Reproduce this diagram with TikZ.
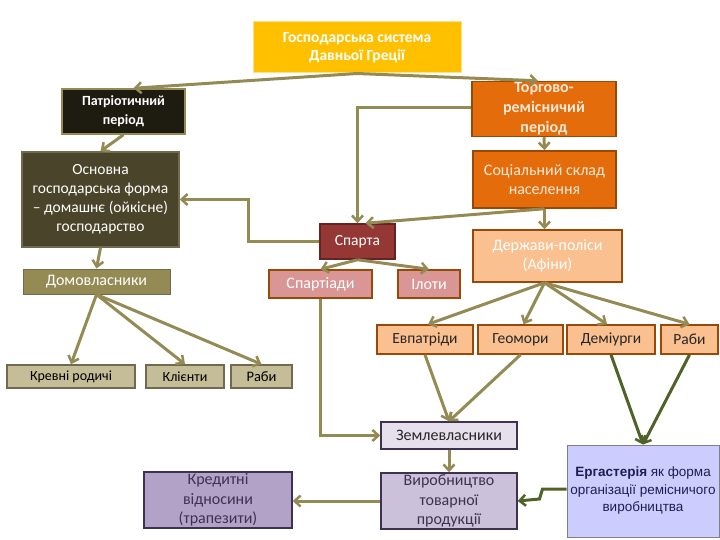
\documentclass[tikz,border=0pt]{standalone}
\usepackage{fontspec}
\setmainfont{Carlito}
\newfontfamily\arialf{Liberation Sans}
\usetikzlibrary{arrows.meta}
\definecolor{conn}{HTML}{948A54}
\definecolor{connd}{HTML}{4F6228}
\definecolor{cgold}{HTML}{FFC000}
\definecolor{cgoldb}{HTML}{FFE08A}
\definecolor{cdark}{HTML}{1E1C11}
\definecolor{colive}{HTML}{948A54}
\definecolor{cdolive}{HTML}{4A452A}
\definecolor{corange}{HTML}{E46C0A}
\definecolor{cbrown}{HTML}{984807}
\definecolor{cred}{HTML}{953735}
\definecolor{credb}{HTML}{632523}
\definecolor{cpeach}{HTML}{FAC090}
\definecolor{cpink}{HTML}{D99694}
\definecolor{ctan}{HTML}{C4BD97}
\definecolor{cgrayb}{HTML}{6F6A50}
\definecolor{clav}{HTML}{E6E0EC}
\definecolor{clav2}{HTML}{CCC1DA}
\definecolor{cpurp}{HTML}{B3A2C7}
\definecolor{cpurpb}{HTML}{3F3151}
\definecolor{cblue}{HTML}{CCCCFF}
\definecolor{cnavy}{HTML}{1F1F4F}
\definecolor{ccream}{HTML}{FDE9D9}
\begin{document}
\begin{tikzpicture}[x=1pt,y=-1pt,
  bx/.style={rectangle, inner sep=1pt, align=center, line width=1.5pt, font=\fontsize{16}{19.5}\selectfont},
  arr/.style={draw=conn, line width=3pt, -{Straight Barb[length=6pt,width=11pt,line width=2.5pt]}},
  arrd/.style={draw=connd, line width=3pt, -{Straight Barb[length=6pt,width=11pt,line width=2.5pt]}}]
\useasboundingbox (0,0) rectangle (720,540);

% nodes
\node[bx, fill=cgold, draw=cgoldb, line width=1pt, text=white, minimum width=208pt, minimum height=51pt, font=\bfseries\fontsize{15.5}{18.5}\selectfont] (top) at (357,47.5) {Господарська система\\Давньої Греції};
\node[bx, fill=cdark, draw=colive, text=white, minimum width=123pt, minimum height=45pt, font=\bfseries\fontsize{14}{19}\selectfont] (patr) at (123.5,111.5) {Патріотичний\\період};
\node[bx, fill=corange, draw=cbrown, text=ccream, minimum width=144pt, minimum height=50pt, font=\bfseries\fontsize{16}{20}\selectfont] (torg) at (544,109) {Торгово-\\ремісничий\\період};
\node[bx, fill=cdolive, draw=cgrayb, text=white, minimum width=157pt, minimum height=95pt, font=\fontsize{15.5}{19}\selectfont] (osn) at (100.5,199.5) {Основна\\господарська форма\\– домашнє (ойкісне)\\господарство};
\node[bx, fill=corange, draw=cbrown, text=ccream, minimum width=143pt, minimum height=57pt] (soc) at (544.5,179.5) {Соціальний склад\\населення};
\node[bx, fill=cred, draw=credb, text=white, minimum width=75pt, minimum height=35pt, font=\fontsize{15.5}{19}\selectfont] (sparta) at (357.5,241.5) {Спарта};
\node[bx, fill=cpeach, draw=cbrown, text=white, minimum width=149pt, minimum height=52pt] (derzh) at (547.5,256) {Держави-поліси\\(Афіни)};
\node[bx, fill=colive, draw=cgrayb, line width=1pt, text=white, minimum width=147pt, minimum height=25pt] (domo) at (96.5,281.5) {Домовласники};
\node[bx, fill=cpink, draw=cbrown, text=white, minimum width=103pt, minimum height=28pt] (spartiady) at (320.5,284) {Спартіади};
\node[bx, fill=cpink, draw=cbrown, text=white, minimum width=62pt, minimum height=28pt] (iloty) at (429,284) {Ілоти};
\node[bx, fill=ctan, draw=cgrayb, text=black, minimum width=128pt, minimum height=23pt, font=\fontsize{14}{17}\selectfont] (krevni) at (71,376.5) {Кревні родичі};
\node[bx, fill=ctan, draw=cgrayb, text=black, minimum width=78pt, minimum height=23pt, font=\fontsize{14}{17}\selectfont] (klienty) at (185,376.5) {Клієнти};
\node[bx, fill=ctan, draw=cgrayb, text=black, minimum width=61pt, minimum height=23pt, font=\fontsize{14.5}{17}\selectfont] (raby1) at (261.5,376.5) {Раби};
\node[bx, fill=cpeach, draw=cbrown, text=black!85, minimum width=96pt, minimum height=29pt, font=\fontsize{15.5}{19}\selectfont] (evp) at (425,339.5) {Евпатріди};
\node[bx, fill=cpeach, draw=cbrown, text=black!85, minimum width=85pt, minimum height=29pt, font=\fontsize{15.5}{19}\selectfont] (geom) at (520.5,339.5) {Геомори};
\node[bx, fill=cpeach, draw=cbrown, text=black!85, minimum width=88pt, minimum height=29pt, font=\fontsize{15.5}{19}\selectfont] (demi) at (611,339.5) {Деміурги};
\node[bx, fill=cpeach, draw=cbrown, text=black!85, minimum width=57pt, minimum height=29pt, font=\fontsize{15.5}{19}\selectfont] (raby2) at (689.5,339.5) {Раби};
\node[bx, fill=clav, draw=cpurpb, text=black!85, minimum width=136pt, minimum height=27pt] (zeml) at (449,435.5) {Землевласники};
\node[bx, fill=clav2, draw=cpurpb, text=cpurpb, minimum width=136pt, minimum height=56pt, font=\fontsize{16}{19.5}\selectfont] (vyrob) at (449,501) {Виробництво\\товарної\\продукції};
\node[bx, fill=cpurp, draw=cpurpb, text=cpurpb, minimum width=148pt, minimum height=56pt, font=\fontsize{16}{19.5}\selectfont] (kred) at (218,500) {Кредитні\\відносини\\(трапезити)};
\node[bx, fill=cblue, draw=gray, line width=1pt, text=cnavy, minimum width=152pt, minimum height=92pt, font=\arialf\fontsize{13.5}{17.5}\selectfont] (erg) at (643,491) {\textbf{Ергастерія} як форма\\організації ремісничого\\виробництва};

% connectors
\draw[arr] (top.south) -- ([xshift=10pt]patr.north);
\draw[arr] (top.south) -- ([xshift=-6pt]torg.north);
\draw[arr] (patr.south) -- (osn.north);
\draw[arr] (torg.south) -- (soc.north);
\draw[arr] ([yshift=1pt]torg.west) -| (sparta.north);
\draw[arr] (soc.south) -- ([xshift=8pt]sparta.north);
\draw[arr] (soc.south) -- (soc.south |- derzh.north);
\draw[arr] (sparta.west) -- ++(-71,0) |- (osn.east);
\draw[arr] (osn.south) -- (domo.north);
\draw[arr] (sparta.south) -- (spartiady.north);
\draw[arr] (sparta.south) -- (iloty.north);
\draw[arr] (domo.south) -- (krevni.north);
\draw[arr] (domo.south) -- (klienty.north);
\draw[arr] (domo.south) -- (raby1.north);
\draw[arr] (spartiady.south) |- (zeml.west);
\draw[arr] ([xshift=-3pt]derzh.south) -- ([xshift=3pt]evp.north);
\draw[arr] ([xshift=-3pt]derzh.south) -- ([xshift=3pt]geom.north);
\draw[arr] ([xshift=-3pt]derzh.south) -- ([xshift=-4pt]demi.north);
\draw[arr] ([xshift=-3pt]derzh.south) -- (raby2.north);
\draw[arr] (evp.south) -- (zeml.north);
\draw[arr] (geom.south) -- (zeml.north);
\draw[arrd] (demi.south) -- (erg.north);
\draw[arrd] (raby2.south) -- (erg.north);
\draw[arr] (zeml.south) -- (vyrob.north);
\draw[arrd] ([yshift=2pt]erg.west) -- ++(-24,0) -- ++(-3,10) -- (vyrob.east);
\draw[arr] (vyrob.west) -- (vyrob.west -| kred.east);
\end{tikzpicture}
\end{document}
